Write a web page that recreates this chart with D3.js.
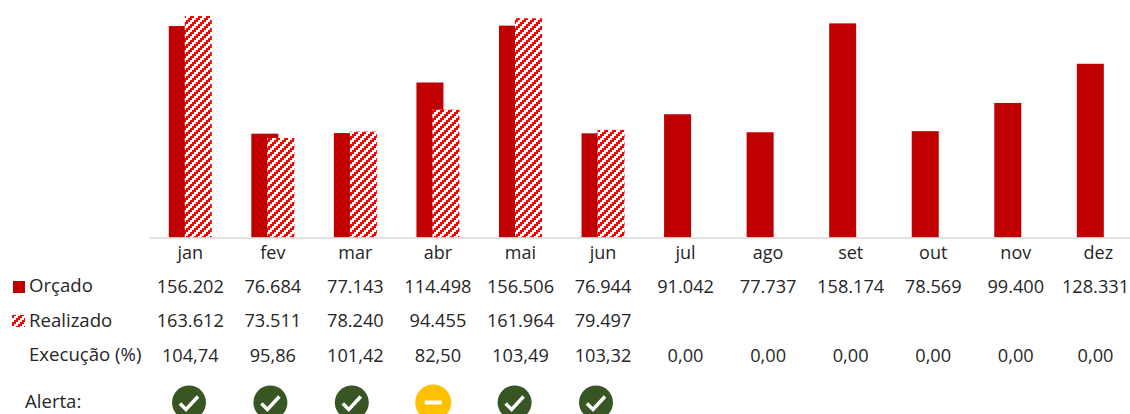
<!DOCTYPE html>
<html>
<head>
<meta charset="utf-8">
<script src="https://cdn.jsdelivr.net/npm/d3@7"></script>
<style>
html, body { margin: 0; padding: 0; background: #fff; overflow: hidden; }
text { font-family: "Open Sans", sans-serif; font-size: 18.2px; fill: #262626; }
text.rot { font-size: 18.6px; }
</style>
</head>
<body>
<div id="chart"></div>
<script>
var meses = ["jan","fev","mar","abr","mai","jun","jul","ago","set","out","nov","dez"];
var orcado = [156202,76684,77143,114498,156506,76944,91042,77737,158174,78569,99400,128331];
var realizado = [163612,73511,78240,94455,161964,79497];
var execucao = ["104,74","95,86","101,42","82,50","103,49","103,32","0,00","0,00","0,00","0,00","0,00","0,00"];
var alerta = ["ok","ok","ok","warn","ok","ok"];

var svg = d3.select("#chart").append("svg")
	.attr("width", 1130)
	.attr("height", 414);

// hachura do realizado, em degraus como no excel
var pat = svg.append("defs").append("pattern")
	.attr("id", "hachura")
	.attr("patternUnits", "userSpaceOnUse")
	.attr("width", 8)
	.attr("height", 8);
pat.append("rect").attr("width", 8).attr("height", 8).attr("fill", "#fff");
d3.range(4).forEach(function(k) {
	d3.range(2).forEach(function(j) {
		pat.append("rect")
			.attr("x", (6 - 2 * k + 2 * j) % 8)
			.attr("y", 2 * k)
			.attr("width", 2)
			.attr("height", 2)
			.attr("fill", "#ff0000");
	});
});

var x = d3.scaleBand().domain(meses).range([149, 1139.6]);
var y = d3.scaleLinear().domain([0, 163612]).range([237.5, 16]);
var barW = 27, desloc = 8;

var g = svg.append("g");
g.selectAll("rect.orc")
	.data(orcado)
	.join("rect")
	.attr("class", "orc")
	.attr("x", (d, i) => x(meses[i]) + x.bandwidth() / 2 - desloc - barW / 2)
	.attr("y", d => y(d))
	.attr("width", barW)
	.attr("height", d => y(0) - y(d))
	.attr("fill", "#c00000");
g.selectAll("rect.rea")
	.data(realizado)
	.join("rect")
	.attr("class", "rea")
	.attr("x", (d, i) => x(meses[i]) + x.bandwidth() / 2 + desloc - barW / 2)
	.attr("y", d => y(d))
	.attr("width", barW)
	.attr("height", d => y(0) - y(d))
	.attr("fill", "url(#hachura)");

// eixo
var eixo = svg.append("g")
	.attr("transform", "translate(0,237.5)")
	.call(d3.axisBottom(x).tickSize(0).tickPadding(9));
eixo.select(".domain").attr("stroke", "#d9d9d9").attr("stroke-width", 1.5);
eixo.selectAll("text").style("font-size", "18px").style("font-family", '"Open Sans", sans-serif').attr("fill", "#262626");

// tabela
var ptBR = d3.formatLocale({decimal: ",", thousands: ".", grouping: [3], currency: ["R$", ""]}).format(",d");
function linha(vals, yy) {
	svg.append("g").selectAll("text")
		.data(vals)
		.join("text")
		.attr("x", (d, i) => Math.min(x(meses[i]) + x.bandwidth() / 2, 1095.5))
		.attr("y", yy)
		.attr("text-anchor", "middle")
		.text(d => d);
}
linha(orcado.map(ptBR), 292.5);
linha(realizado.map(ptBR), 327);
linha(execucao, 362);

svg.append("text").attr("class", "rot").attr("x", 29).attr("y", 292).text("Orçado");
svg.append("text").attr("class", "rot").attr("x", 29).attr("y", 327).text("Realizado");
svg.append("text").attr("class", "rot").attr("x", 29).attr("y", 361).text("Execução (%)");
svg.append("text").attr("class", "rot").attr("x", 25).attr("y", 408).text("Alerta:");

// legenda
svg.append("rect").attr("x", 13).attr("y", 281).attr("width", 12).attr("height", 12).attr("fill", "#c00000");
svg.append("rect").attr("x", 12).attr("y", 315).attr("width", 13).attr("height", 12).attr("fill", "url(#hachura)");

// alertas
var xAlerta = d3.scalePoint().domain(meses.slice(0, alerta.length)).range([189, 596]);
var al = svg.append("g").selectAll("g")
	.data(alerta)
	.join("g")
	.attr("transform", (d, i) => `translate(${xAlerta(meses[i])},402.5)`);
al.append("circle")
	.attr("r", d => d == "warn" ? 18 : 17)
	.attr("fill", d => d == "warn" ? "#ffc000" : "#375623");
al.filter(d => d == "ok").append("path")
	.attr("d", "M-9,1 L-3,7 L9,-6")
	.attr("fill", "none")
	.attr("stroke", "#fff")
	.attr("stroke-width", 3.5);
al.filter(d => d == "warn").append("rect")
	.attr("x", -8.5).attr("y", -2).attr("width", 17).attr("height", 4)
	.attr("fill", "#fff");
</script>
</body>
</html>
